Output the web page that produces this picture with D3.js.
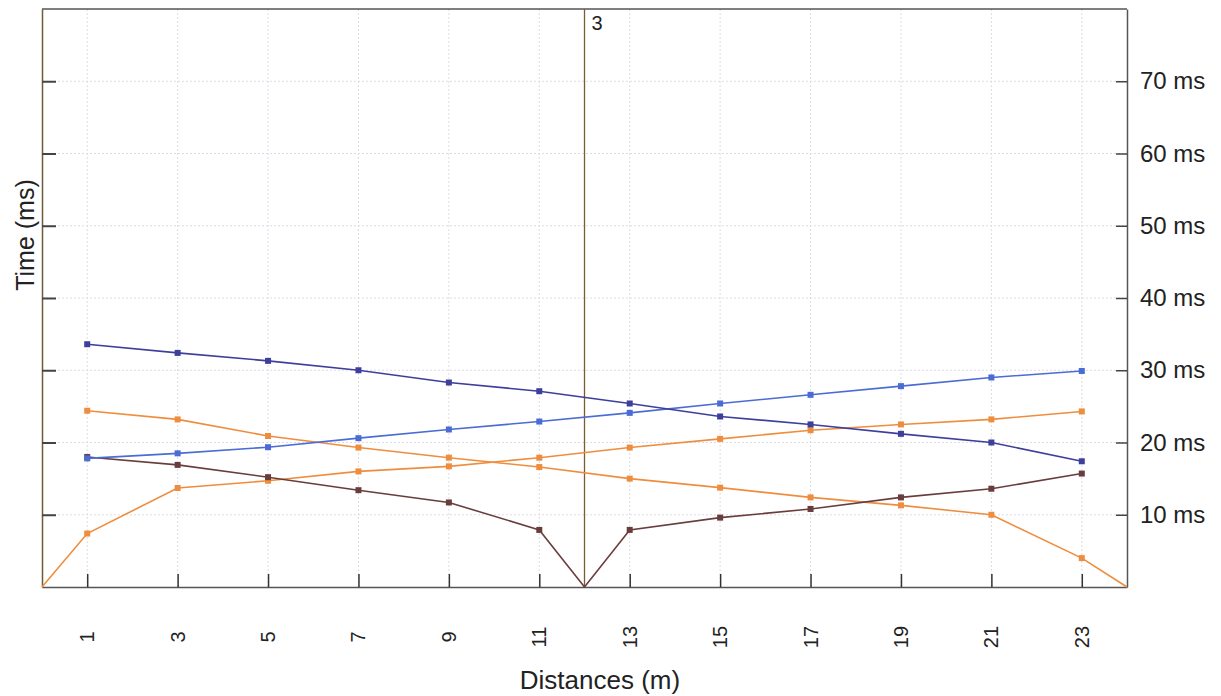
<!DOCTYPE html>
<html>
<head>
<meta charset="utf-8">
<script src="https://cdn.jsdelivr.net/npm/d3@7"></script>
<style>
  body { margin: 0; background: #fff; }
  text { font-family: "Liberation Sans", Arial, sans-serif; fill: #222; }
</style>
</head>
<body>
<div id="chart"></div>
<script>
// distances (m) and measured times (ms)
const distances = [1, 3, 5, 7, 9, 11, 13, 15, 17, 19, 21, 23];
const xTicks = [1, 3, 5, 7, 9, 11, 13, 15, 17, 19, 21, 23];
const yTicks = [10, 20, 30, 40, 50, 60, 70];
const markerX = 12;
const markerLabel = "3";

const seriesDarkBlue = [33.6, 32.4, 31.3, 30.0, 28.3, 27.1, 25.4, 23.6, 22.5, 21.2, 20.0, 17.4];
const seriesBlue = [17.8, 18.5, 19.35, 20.6, 21.8, 22.9, 24.1, 25.4, 26.6, 27.8, 29.0, 29.9];
const seriesOrangeDown = [24.4, 23.2, 20.9, 19.3, 17.9, 16.6, 15.0, 13.75, 12.4, 11.3, 10.0, 4.0];
const seriesOrangeUp = [7.4, 13.7, 14.7, 16.0, 16.7, 17.9, 19.3, 20.5, 21.7, 22.5, 23.2, 24.3];
const seriesBrown = [18.0, 16.9, 15.2, 13.4, 11.7, 7.9, 7.9, 9.6, 10.8, 12.4, 13.6, 15.7];

const width = 1221, height = 696;
const margin = {left: 42, top: 9, right: 94, bottom: 109};
const innerW = width - margin.left - margin.right;
const innerH = height - margin.top - margin.bottom;

const svg = d3.select("#chart").append("svg")
    .attr("width", width)
    .attr("height", height);

const x = d3.scaleLinear().domain([0, 24]).range([margin.left, margin.left + innerW]);
const y = d3.scaleLinear().domain([0, 80]).range([margin.top + innerH, margin.top]);

// grid
svg.append("g").selectAll("line")
    .data(xTicks)
    .join("line")
    .attr("x1", d => x(d)).attr("x2", d => x(d))
    .attr("y1", y(80)).attr("y2", y(0))
    .attr("stroke", "#dcdce6").attr("stroke-width", 1)
    .attr("stroke-dasharray", "2,2");

svg.append("g").selectAll("line")
    .data(yTicks)
    .join("line")
    .attr("x1", x(0)).attr("x2", x(24))
    .attr("y1", d => y(d)).attr("y2", d => y(d))
    .attr("stroke", "#dcdce6").attr("stroke-width", 1)
    .attr("stroke-dasharray", "2,2");

// axes (ticks point inward)
const leftAxis = svg.append("g")
    .attr("transform", `translate(${x(0)},0)`)
    .call(d3.axisLeft(y).tickValues(yTicks).tickSizeInner(-14).tickSizeOuter(0).tickFormat(""));
leftAxis.select(".domain").attr("stroke", "#6b5c3a").attr("stroke-width", 1.5);
leftAxis.selectAll(".tick line").attr("stroke", "#444").attr("stroke-width", 2);

const rightAxis = svg.append("g")
    .attr("transform", `translate(${x(24)},0)`)
    .call(d3.axisRight(y).tickValues(yTicks).tickSizeInner(-11).tickSizeOuter(0)
        .tickPadding(13).tickFormat(d => d + " ms"));
rightAxis.select(".domain").attr("stroke", "#555").attr("stroke-width", 1.5);
rightAxis.selectAll(".tick line").attr("stroke", "#444").attr("stroke-width", 1.5);
rightAxis.selectAll(".tick text")
    .attr("font-size", 24)
    .attr("fill", "#222")
    .style("font-family", "Liberation Sans, Arial, sans-serif");

const bottomAxis = svg.append("g")
    .attr("transform", `translate(0,${y(0)})`)
    .call(d3.axisBottom(x).tickValues(xTicks).tickSizeInner(-13).tickSizeOuter(0).tickFormat(""));
bottomAxis.select(".domain").attr("stroke", "#555").attr("stroke-width", 1.5);
bottomAxis.selectAll(".tick line").attr("stroke", "#333").attr("stroke-width", 1.5);

// top frame
svg.append("line")
    .attr("x1", x(0)).attr("x2", x(24))
    .attr("y1", y(80)).attr("y2", y(80))
    .attr("stroke", "#555").attr("stroke-width", 1.5);

// rotated x tick labels
svg.append("g").selectAll("text")
    .data(xTicks)
    .join("text")
    .attr("transform", d => `translate(${x(d)},637) rotate(-90)`)
    .attr("text-anchor", "middle")
    .attr("dy", "0.35em")
    .attr("font-size", 20)
    .text(d => d);

// axis titles
svg.append("text")
    .attr("x", 600).attr("y", 689)
    .attr("text-anchor", "middle")
    .attr("font-size", 26)
    .text("Distances (m)");

svg.append("text")
    .attr("transform", "translate(34,235) rotate(-90)")
    .attr("text-anchor", "middle")
    .attr("font-size", 25)
    .text("Time (ms)");

// marker line
svg.append("line")
    .attr("x1", x(markerX)).attr("x2", x(markerX))
    .attr("y1", y(80)).attr("y2", y(0))
    .attr("stroke", "#7a5c30").attr("stroke-width", 1.3);
svg.append("text")
    .attr("x", x(markerX) + 7).attr("y", 30)
    .attr("font-size", 20)
    .text(markerLabel);

// series
const series = [
    {name: "orangeUp", color: "#ef8d3e", values: seriesOrangeUp, start: [0, 0]},
    {name: "orangeDown", color: "#ef8d3e", values: seriesOrangeDown, end: [24, 0]},
    {name: "brown", color: "#6a3d3d", values: seriesBrown, mid: [12, 0]},
    {name: "blue", color: "#4a6cd4", values: seriesBlue},
    {name: "darkBlue", color: "#3e3f9c", values: seriesDarkBlue}
];

const line = d3.line().x(d => x(d[0])).y(d => y(d[1]));

series.forEach(s => {
    let pts = distances.map((d, i) => [d, s.values[i]]);
    let marks = pts.slice();
    if (s.start) pts.unshift(s.start);
    if (s.end) pts.push(s.end);
    if (s.mid) {
        const k = pts.findIndex(p => p[0] > s.mid[0]);
        pts.splice(k, 0, s.mid);
    }
    svg.append("path")
        .datum(pts)
        .attr("fill", "none")
        .attr("stroke", s.color)
        .attr("stroke-width", 1.6)
        .attr("d", line);

    svg.append("g").selectAll("rect")
        .data(marks)
        .join("rect")
        .attr("x", d => x(d[0]) - 3)
        .attr("y", d => y(d[1]) - 3)
        .attr("width", 6)
        .attr("height", 6)
        .attr("fill", s.color);
});
</script>
</body>
</html>
